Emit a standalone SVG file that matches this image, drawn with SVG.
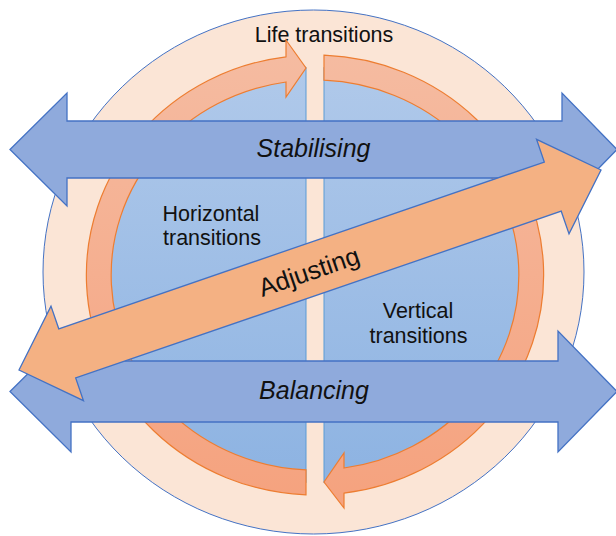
<svg xmlns="http://www.w3.org/2000/svg" width="616" height="536" viewBox="0 0 616 536">
  <defs>
    <linearGradient id="blueGrad" gradientUnits="userSpaceOnUse" x1="0" y1="67" x2="0" y2="483">
      <stop offset="0" stop-color="#B0C9EA"/>
      <stop offset="1" stop-color="#8DB3E2"/>
    </linearGradient>
    <linearGradient id="ringGrad" gradientUnits="userSpaceOnUse" x1="0" y1="40" x2="0" y2="508">
      <stop offset="0" stop-color="#F5BCA2"/>
      <stop offset="1" stop-color="#F5A27E"/>
    </linearGradient>
    <style>
      .outer { fill: #FBE5D6; stroke: #4472C4; stroke-width: 1; }
      .half { fill: url(#blueGrad); stroke: #5B9BD5; stroke-width: 1; }
      .ring { fill: url(#ringGrad); stroke: #ED7D31; stroke-width: 1.2; stroke-linejoin: miter; }
      .barrow { fill: #8FAADC; stroke: #4472C4; stroke-width: 1.3; stroke-linejoin: miter; }
      .oarrow { fill: #F4B183; stroke: #4472C4; stroke-width: 1.3; stroke-linejoin: miter; }
      .lbl { font-family: "Liberation Sans", Arial, sans-serif; font-size: 21.5px; fill: #111111; text-anchor: middle; }
      .big { font-family: "Liberation Sans", Arial, sans-serif; font-size: 25px; font-style: italic; fill: #111111; text-anchor: middle; }
      .adj { font-family: "Liberation Sans", Arial, sans-serif; font-size: 25.5px; fill: #111111; text-anchor: middle; }
    </style>
  </defs>

  <g id="life-transitions">
    <ellipse class="outer" cx="313.5" cy="272" rx="270.5" ry="262"/>
    <text class="lbl" x="324" y="42">Life transitions</text>
  </g>

  <g id="horizontal-transitions">
    <path class="half" d="M 306 67.2 A 216 208 0 0 0 306 482.8 Z"/>
    <text class="lbl" x="211" y="221">Horizontal</text>
    <text class="lbl" x="212" y="245">transitions</text>
  </g>

  <g id="vertical-transitions">
    <path class="half" d="M 324 67.2 A 216 208 0 0 1 324 482.8 Z"/>
    <text class="lbl" x="418" y="318">Vertical</text>
    <text class="lbl" x="418.5" y="343">transitions</text>
  </g>

  <g id="connectors">
    <path class="ring" d="M 306 494.8 A 229 220 0 0 1 286 56.8 L 286 40 L 306 68 L 286 97 L 286 82 A 204 195 0 0 0 306 469.8 Z"/>
    <path class="ring" d="M 324 55.2 A 229 220 0 0 1 344 493.2 L 344 508 L 324 482 L 344 453 L 344 468 A 204 195 0 0 0 324 80.2 Z"/>
  </g>

  <g id="stabilising">
    <path class="barrow" d="M 10 149.5 L 67 93 L 67 121 L 562 121 L 562 93 L 617 149.5 L 562 206 L 562 178 L 67 178 L 67 206 Z"/>
    <text class="big" x="313.5" y="157">Stabilising</text>
  </g>

  <g id="balancing">
    <path class="barrow" d="M 10 391.5 L 71 331 L 71 361 L 558 361 L 558 331 L 617 391.5 L 558 452 L 558 422 L 71 422 L 71 452 Z"/>
    <text class="big" x="314" y="399">Balancing</text>
  </g>

  <g id="adjusting" transform="translate(310,270) rotate(-18.96)">
    <path class="oarrow" d="M -307.7 0 L -256.7 -50 L -256.7 -26 L 256.7 -26 L 256.7 -50 L 307.7 0 L 256.7 50 L 256.7 26 L -256.7 26 L -256.7 50 Z"/>
    <text class="adj" x="-1.5" y="10">Adjusting</text>
  </g>
</svg>
